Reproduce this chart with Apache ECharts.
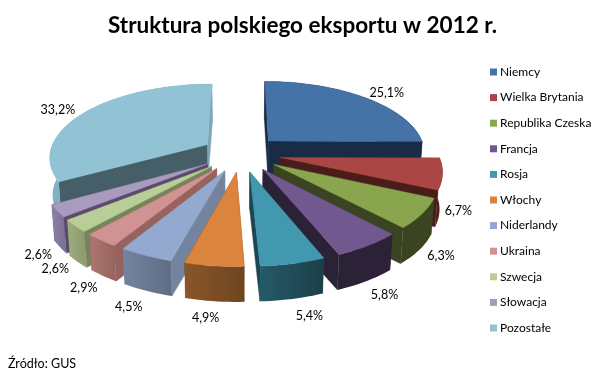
<!DOCTYPE html>
<html><head><meta charset="utf-8">
<style>html,body{margin:0;padding:0;background:#fff}#c{width:605px;height:378px}</style>
<script src="https://cdn.jsdelivr.net/npm/echarts@6/dist/echarts.min.js"></script>
</head><body><div id="c"></div>
<script>
const names = ['Niemcy','Wielka Brytania','Republika Czeska','Francja','Rosja','Włochy','Niderlandy','Ukraina','Szwecja','Słowacja','Pozostałe'];
const values = [25.1,6.7,6.3,5.8,5.4,4.9,4.5,2.9,2.6,2.6,33.2];
const topColors = ['#4572A7','#AA4643','#89A54E','#71588F','#4198AF','#DB843D','#93A9CF','#D19392','#B9CD96','#A99BBD','#92C3D5'];
const cutStart = ['#1A2C45','#4A1C1A','#3A4420','#2C2238','#1D4652','#6E4520','#74849F','#96635F','#75845A','#5A4B6E','#465E68'];
const cutEnd = ['#1A2C45','#4A1C1A','#3A4420','#2C2238','#1D4652','#6E4520','#74849F','#96635F','#75845A','#5A4B6E','#7CA6B6'];
const rimLeft = ['#1A2C45','#5A1E1C','#3A4420','#2C2238','#265A69','#8A5629','#74849F','#AE7672','#9FAE80','#8F80A5','#86B0C0'];
const rimRight = ['#1A2C45','#4A1C1A','#3A4420','#2C2238','#1A3F49','#6E4520','#5F6C85','#96635F','#8A9A6E','#7A6C90','#7CA6B6'];
const labelNudge = [[16,-38],[2,-1],[5,1],[6,5],[12,6],[-6,5],[-9,6],[-6,4],[-7,0],[-5,3],[-19,-37]];

const CX=241, CY=153.5, R=158, EXPLODE=39.6, TILT=0.46, PERSP=0.001, DEPTH=37, LABEL_R=16;
const total = values.reduce((a,b)=>a+b,0);
const starts = []; values.reduce((acc,v,i)=>{starts[i]=acc; return acc+v;},0);

function proj(u,v,z){
  const s=1/(1+PERSP*v), b=1-0.015*z/DEPTH;
  return [CX+u*s*b, CY-v*s*TILT*b+z];
}
function renderSlice(idx){
  return function(params,api){
    const st=api.value(0), val=api.value(1);
    const a0=st/total*2*Math.PI, a1=(st+val)/total*2*Math.PI, mid=(a0+a1)/2;
    const ou=EXPLODE*Math.sin(mid), ov=EXPLODE*Math.cos(mid);
    const pt=(r,a,z)=>proj(ou+r*Math.sin(a),ov+r*Math.cos(a),z);
    const n=Math.max(4,Math.ceil((a1-a0)/0.03));
    const arcTop=[],arcBot=[];
    for(let i=0;i<=n;i++){const a=a0+(a1-a0)*i/n; arcTop.push(pt(R,a,0)); arcBot.push(pt(R,a,DEPTH));}
    const apexT=pt(0,a0,0), apexB=pt(0,a0,DEPTH);
    const poly=(points,fill)=>({type:'polygon',shape:{points},style:{fill,stroke:fill,lineWidth:0.4}});
    const grad=new echarts.graphic.LinearGradient(0,0,1,0,[{offset:0,color:rimLeft[idx]},{offset:1,color:rimRight[idx]}]);
    const rim={type:'polygon',shape:{points:arcTop.concat(arcBot.slice().reverse())},style:{fill:grad}};
    const lab=pt(R+LABEL_R,mid,DEPTH);
    const nd=labelNudge[idx];
    return {type:'group',children:[
      poly([apexT,arcTop[0],arcBot[0],apexB],cutStart[idx]),
      poly([apexT,arcTop[n],arcBot[n],apexB],cutEnd[idx]),
      rim,
      poly([apexT].concat(arcTop),topColors[idx]),
      {type:'text',z2:50,style:{text:String(val.toFixed(1)).replace('.',',')+'%',x:lab[0]+nd[0],y:lab[1]+nd[1],fill:'#000',font:'12.5px Lato',align:'center',verticalAlign:'middle'}}
    ]};
  };
}
const order=names.map((_,i)=>i).sort((a,b)=>{
  const m=i=>(starts[i]+values[i]/2)/total*2*Math.PI;
  return Math.cos(m(b))-Math.cos(m(a));
});
const series=names.map((name,i)=>({
  type:'custom',name,coordinateSystem:'none',silent:true,animation:false,
  z:2+order.indexOf(i),
  itemStyle:{color:topColors[i]},
  data:[[starts[i],values[i]]],
  renderItem:renderSlice(i)
}));
const chart=echarts.init(document.getElementById('c'),null,{renderer:'canvas'});
chart.setOption({
  animation:false,
  backgroundColor:'#fff',
  title:[
    {text:'Struktura polskiego eksportu w 2012 r.',left:'center',top:9,textStyle:{fontFamily:'Lato',fontWeight:'bold',fontSize:22.5,color:'#000'}},
    {text:'Źródło: GUS',left:3,top:352,textStyle:{fontFamily:'Lato',fontWeight:'normal',fontSize:12.5,color:'#000'}}
  ],
  legend:{data:names,orient:'vertical',left:485,top:60,icon:'rect',itemWidth:7,itemHeight:7,itemGap:11.6,
    textStyle:{fontFamily:'Lato',fontSize:12,color:'#000',padding:[0,0,0,-2],lineHeight:14}},
  series
});
</script></body></html>
